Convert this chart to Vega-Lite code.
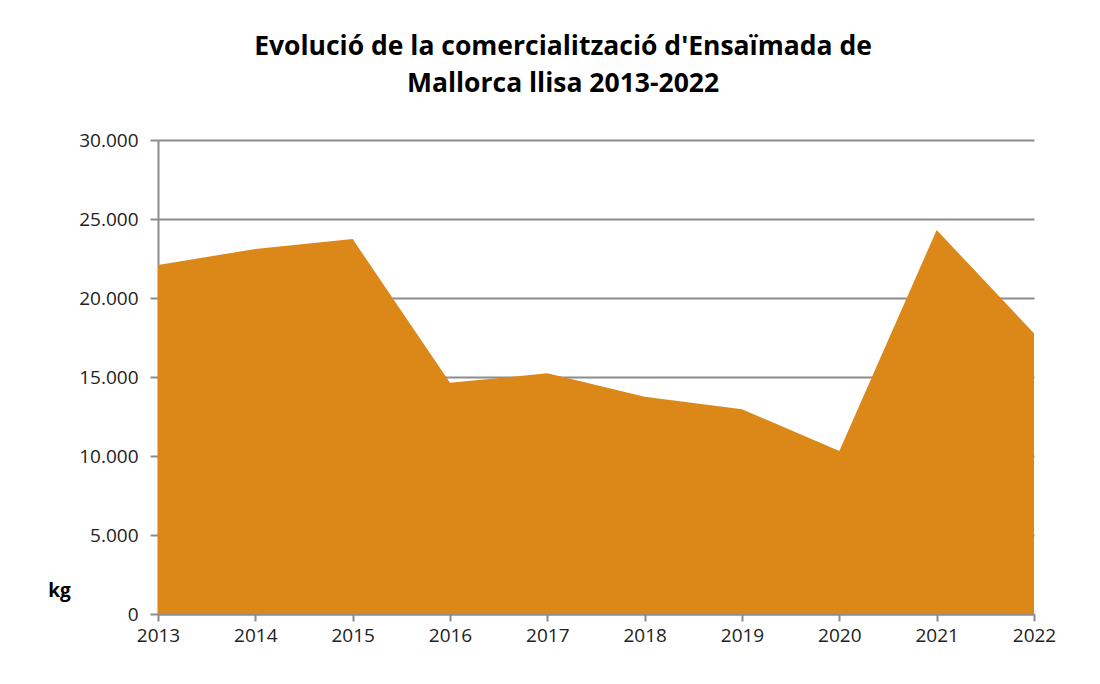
{
  "$schema": "https://vega.github.io/schema/vega-lite/v6.json",
  "width": 876,
  "height": 474,
  "autosize": {"type": "none"},
  "padding": {"left": 158, "top": 140, "right": 66, "bottom": 70},
  "background": "white",
  "config": {
    "locale": {"number": {"decimal": ",", "thousands": ".", "grouping": [3], "currency": ["", "€"]}},
    "view": {"stroke": null},
    "font": "Open Sans"
  },
  "title": {
    "text": ["Evolució de la comercialització d'Ensaïmada de", "Mallorca llisa 2013-2022"],
    "font": "Open Sans",
    "fontSize": 26.5,
    "fontWeight": "bold",
    "color": "#000000",
    "anchor": "middle",
    "dx": -33,
    "offset": 34,
    "lineHeight": 37
  },
  "data": {
    "values": [
      {"year": 2013, "kg": 22090},
      {"year": 2014, "kg": 23100},
      {"year": 2015, "kg": 23730},
      {"year": 2016, "kg": 14640},
      {"year": 2017, "kg": 15230},
      {"year": 2018, "kg": 13750},
      {"year": 2019, "kg": 12960},
      {"year": 2020, "kg": 10320},
      {"year": 2021, "kg": 24300},
      {"year": 2022, "kg": 17770}
    ]
  },
  "mark": {"type": "area", "color": "#DC8818", "opacity": 1},
  "encoding": {
    "x": {
      "field": "year",
      "type": "quantitative",
      "scale": {"domain": [2013, 2022], "nice": false, "zero": false},
      "axis": {
        "title": null,
        "values": [2013, 2014, 2015, 2016, 2017, 2018, 2019, 2020, 2021, 2022],
        "format": "d",
        "grid": false,
        "domainColor": "#8c8c8c",
        "domainWidth": 2,
        "tickColor": "#8c8c8c",
        "tickWidth": 2,
        "tickSize": 7,
        "labelFontSize": 19,
        "labelColor": "#222222",
        "labelPadding": 5,
        "labelFont": "Open Sans",
        "labelFlush": false
      }
    },
    "y": {
      "field": "kg",
      "type": "quantitative",
      "scale": {"domain": [0, 30000], "nice": false},
      "axis": {
        "title": "kg",
        "titleAngle": 0,
        "titleFontSize": 19,
        "titleFontWeight": "bold",
        "titleColor": "#000000",
        "titleFont": "Open Sans",
        "titleX": -99,
        "titleY": 460,
        "titleAlign": "center",
        "values": [0, 5000, 10000, 15000, 20000, 25000, 30000],
        "format": ",.0f",
        "grid": true,
        "gridColor": "#8c8c8c",
        "gridWidth": 2,
        "domain": true,
        "domainColor": "#8c8c8c",
        "domainWidth": 2,
        "tickColor": "#8c8c8c",
        "tickWidth": 2,
        "tickSize": 8,
        "labelFontSize": 19,
        "labelColor": "#222222",
        "labelPadding": 12,
        "labelFont": "Open Sans"
      }
    }
  }
}
